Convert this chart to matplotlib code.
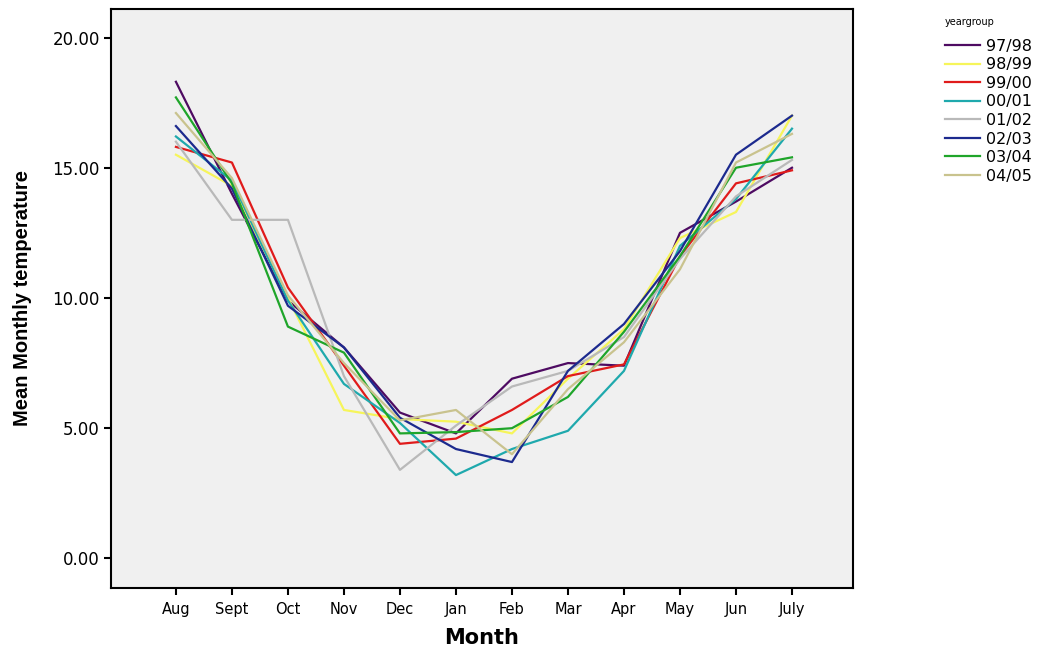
import matplotlib
matplotlib.use("Agg")
import matplotlib.pyplot as plt
from matplotlib.ticker import FormatStrFormatter

# Data
months = ["Aug", "Sept", "Oct", "Nov", "Dec", "Jan", "Feb", "Mar", "Apr", "May", "Jun", "July"]
yeargroups = ["97/98", "98/99", "99/00", "00/01", "01/02", "02/03", "03/04", "04/05"]

t_97_98 = [18.3, 14.0, 9.9, 8.1, 5.6, 4.8, 6.9, 7.5, 7.4, 12.5, 13.7, 15.0]
t_98_99 = [15.5, 14.3, 10.0, 5.7, 5.35, 5.25, 4.8, 6.9, 8.8, 12.3, 13.3, 17.0]
t_99_00 = [15.8, 15.2, 10.4, 7.4, 4.4, 4.6, 5.7, 7.0, 7.45, 11.6, 14.4, 14.9]
t_00_01 = [16.2, 14.5, 9.9, 6.7, 5.2, 3.2, 4.2, 4.9, 7.2, 12.0, 13.8, 16.5]
t_01_02 = [16.0, 13.0, 13.0, 7.0, 3.4, 5.1, 6.6, 7.2, 8.5, 11.5, 13.9, 15.3]
t_02_03 = [16.6, 14.2, 9.7, 8.1, 5.4, 4.2, 3.7, 7.2, 9.0, 11.8, 15.5, 17.0]
t_03_04 = [17.7, 14.4, 8.9, 7.9, 4.8, 4.85, 5.0, 6.2, 8.7, 11.6, 15.0, 15.4]
t_04_05 = [17.1, 14.6, 10.1, 7.5, 5.3, 5.7, 4.0, 6.5, 8.3, 11.1, 15.2, 16.3]

series = [t_97_98, t_98_99, t_99_00, t_00_01, t_01_02, t_02_03, t_03_04, t_04_05]
colors = ["#4e0b62", "#f6f55a", "#e01b1b", "#1fa9ad", "#b9b9b9", "#1c2a8e", "#1fa52a", "#c9c38e"]

plt.rcParams.update({
    "font.family": ["DejaVu Sans"],
    "axes.linewidth": 1.5,
})

fig = plt.figure(figsize=(10.37, 6.51), dpi=100, facecolor="white")
ax = fig.add_axes([0.107, 0.097, 0.7156, 0.889])
ax.set_facecolor("#f0f0f0")

x = list(range(len(months)))
lines = []
for vals, col, name in zip(series, colors, yeargroups):
    ln, = ax.plot(x, vals, color=col, linewidth=1.6, label=name)
    lines.append(ln)

ax.set_xlim(-1.16, 12.09)
ax.set_ylim(-1.13, 21.09)
ax.set_xticks(x)
ax.set_xticklabels(months)
ax.set_yticks([0, 5, 10, 15, 20])
ax.yaxis.set_major_formatter(FormatStrFormatter("%.2f"))
ax.tick_params(axis="both", direction="out", length=5, width=1.5)
ax.tick_params(axis="y", labelsize=12, pad=3)
ax.tick_params(axis="x", labelsize=10.5, pad=5)

ax.set_xlabel("Month", fontsize=15, fontweight="bold", labelpad=8)
ax.set_ylabel("Mean Monthly temperature", fontsize=14.5, fontweight="bold",
              family=["Liberation Sans", "DejaVu Sans"], labelpad=15)

# legend title placed separately to match the gap above the entries
fig.text(0.911, 0.966, "yeargroup", fontsize=7, ha="left", va="center")
leg = fig.legend(handles=lines, labels=yeargroups, loc="upper left",
                 bbox_to_anchor=(0.905, 0.950), frameon=False, fontsize=11.5,
                 handlelength=2.2, labelspacing=0.22, handletextpad=0.4,
                 borderaxespad=0.0)

fig.savefig("out.png", dpi=100, facecolor=fig.get_facecolor())
